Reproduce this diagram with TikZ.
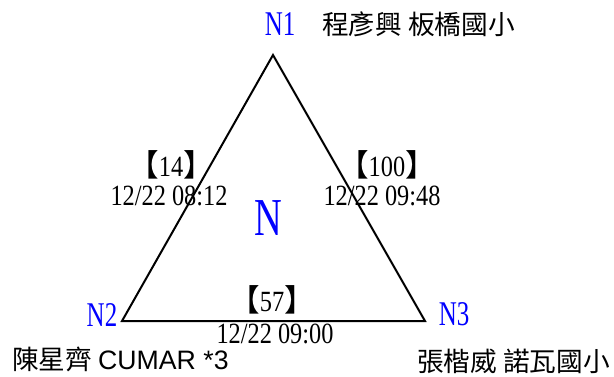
\documentclass[tikz,border=0pt]{standalone}
\usepackage{fontspec}
\setmainfont{Liberation Serif}
\newfontfamily\cjk{Noto Sans CJK TC}
\newfontfamily\digf[FakeStretch=0.83]{Liberation Serif}
\newfontfamily\nlabf[FakeStretch=0.72]{Liberation Serif}
\newfontfamily\arialf{Liberation Sans}
\definecolor{nblue}{RGB}{0,0,255}
\tikzset{
  edgeline/.style={line width=1.5pt, line join=miter},
  vlabel/.style={inner sep=0pt, text=nblue, font=\fontsize{26pt}{26pt}\nlabf},
  biglabel/.style={inner sep=0pt, text=nblue, font=\fontsize{40pt}{40pt}\nlabf},
  namelabel/.style={inner sep=0pt, anchor=west, font=\fontsize{20pt}{20pt}\cjk},
  countlabel/.style={inner sep=0pt, font=\fontsize{22pt}{22pt}\digf},
  timelabel/.style={inner sep=0pt, font=\fontsize{22pt}{22pt}\digf},
}
\newcommand{\brk}[1]{{\cjk\fontsize{23pt}{23pt}\selectfont【}#1{\cjk\fontsize{23pt}{23pt}\selectfont】}}
\begin{document}
\begin{tikzpicture}[x=0.75pt, y=-0.75pt]
\useasboundingbox (0,0) rectangle (614,376);
\coordinate (v1) at (273,55);
\coordinate (v2) at (122,321);
\coordinate (v3) at (425,321);
\draw[edgeline] (v1) -- (v2) -- (v3) -- cycle;
% vertex labels
\node[vlabel] (n1) at (280,24) {N1};
\node[vlabel] (n2) at (102,315) {N2};
\node[vlabel] (n3) at (454,314) {N3};
\node[biglabel] (nc) at (268,218) {N};
% names
\node[namelabel] (p1) at (322,24) {程彥興 板橋國小};
\node[namelabel] (p2) at (12,359) {陳星齊 {\arialf CUMAR *3}};
\node[namelabel] (p3) at (417,361) {張楷威 諾瓦國小};
% edge labels
\node[countlabel] (c12) at (171,165) {\brk{14}};
\node[timelabel] (t12) at (169,196) {12/22 08:12};
\node[countlabel] (c13) at (387,165) {\brk{100}};
\node[timelabel] (t13) at (382,196) {12/22 09:48};
\node[countlabel] (c23) at (272,300) {\brk{57}};
\node[timelabel] (t23) at (275,334) {12/22 09:00};
\end{tikzpicture}
\end{document}
